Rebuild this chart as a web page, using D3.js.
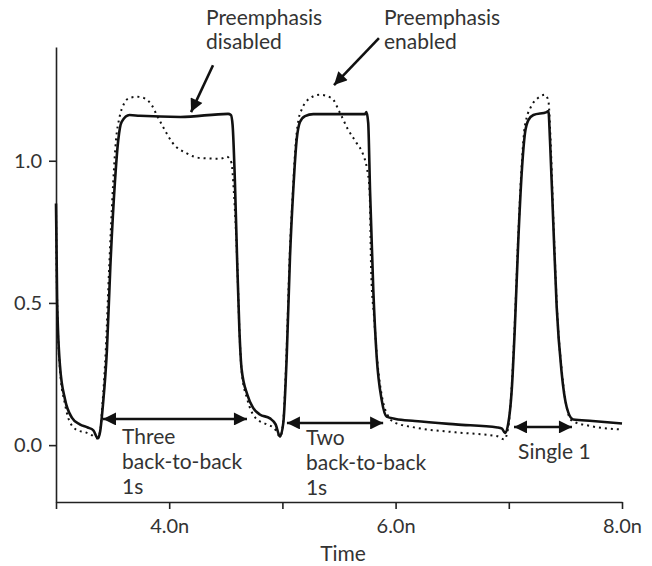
<!DOCTYPE html>
<meta charset="utf-8">
<style>
body { margin:0; background:#fff; }
svg { display:block; background:#fff; }
.axis path, .axis line { stroke:#222; stroke-width:1.6; }
.axis text { font-family:Lato, "Open Sans", sans-serif; font-size:20px; fill:#333; }
.wave { fill:none; stroke:#111; }
.disabled { stroke-width:2.6; }
.enabled { stroke-width:2; stroke-dasharray:2,4; }
.note { font-family:Lato, "Open Sans", sans-serif; font-size:21px; fill:#333; }
.arrow { stroke:#111; stroke-width:2.6; }
</style>
<body>
<script src="https://cdnjs.cloudflare.com/ajax/libs/d3/7.8.5/d3.min.js"></script>
<script>

var width = 652,
    height = 566;

// time in ns, voltage
var disabledWave = [
  [3.00,0.85],[3.01,0.51],[3.035,0.28],[3.08,0.16],[3.14,0.097],[3.21,0.073],[3.28,0.062],
  [3.33,0.052],[3.37,0.024],[3.39,0.048],[3.415,0.143],[3.45,0.336],[3.48,0.627],[3.52,0.922],
  [3.55,1.073],[3.58,1.137],[3.65,1.161],[3.74,1.158],[4.10,1.154],[4.52,1.165],[4.545,1.161],
  [4.56,1.126],[4.58,0.933],[4.60,0.652],[4.62,0.406],[4.64,0.266],[4.69,0.178],[4.74,0.132],
  [4.80,0.108],[4.89,0.094],[4.94,0.073],[4.979,0.030],[5.008,0.078],[5.038,0.310],
  [5.067,0.661],[5.096,0.897],[5.126,1.073],[5.155,1.136],[5.20,1.157],[5.273,1.164],[5.73,1.164],
  [5.742,1.171],[5.758,1.133],[5.774,0.897],[5.803,0.545],[5.833,0.310],[5.877,0.159],
  [5.921,0.100],[6.0,0.092],[6.17,0.085],[6.53,0.073],[6.90,0.062],[6.94,0.058],
  [6.966,0.043],[6.996,0.078],[7.026,0.194],[7.055,0.429],[7.084,0.721],[7.114,0.957],
  [7.143,1.097],[7.173,1.143],[7.217,1.161],[7.335,1.171],[7.35,1.175],[7.364,1.072],
  [7.393,0.780],[7.423,0.486],[7.467,0.254],[7.511,0.134],[7.569,0.090],[7.74,0.085],[8.00,0.076]
];

var enabledWave = [
  [3.00,0.83],[3.01,0.51],[3.035,0.266],[3.08,0.143],[3.12,0.083],[3.19,0.052],[3.26,0.045],
  [3.32,0.034],[3.36,0.024],[3.39,0.048],[3.41,0.143],[3.44,0.336],[3.47,0.627],[3.505,0.922],
  [3.53,1.073],[3.56,1.151],[3.60,1.200],[3.65,1.221],[3.72,1.225],[3.79,1.218],[3.85,1.193],
  [3.89,1.161],[3.95,1.116],[4.03,1.063],[4.16,1.025],[4.27,1.010],[4.45,1.007],[4.51,1.014],
  [4.55,0.993],[4.57,0.898],[4.60,0.652],[4.62,0.406],[4.64,0.259],[4.69,0.161],[4.76,0.097],
  [4.86,0.073],[4.93,0.059],[4.979,0.030],[5.006,0.078],[5.035,0.310],[5.064,0.661],
  [5.093,0.897],[5.12,1.073],[5.145,1.15],[5.17,1.18],[5.244,1.22],[5.332,1.232],[5.436,1.22],
  [5.509,1.168],[5.582,1.108],[5.656,1.062],[5.715,1.020],[5.745,0.977],[5.77,0.897],
  [5.785,0.60],[5.81,0.45],[5.84,0.29],[5.88,0.17],[5.93,0.105],[5.99,0.080],[6.17,0.062],
  [6.53,0.045],[6.90,0.031],[6.96,0.020],[6.994,0.060],[7.024,0.194],[7.053,0.429],
  [7.082,0.721],[7.11,0.957],[7.135,1.10],[7.16,1.155],[7.19,1.185],[7.21,1.20],[7.25,1.218],
  [7.32,1.232],[7.35,1.21],[7.366,1.10],[7.395,0.780],[7.425,0.486],[7.47,0.254],[7.515,0.125],
  [7.56,0.085],[7.71,0.068],[8.00,0.055]
];

var xTicks = [3, 4, 5, 6, 7, 8];
var xLabels = {4:"4.0n", 6:"6.0n", 8:"8.0n"};
var yTicks = [0, 0.5, 1.0];

// bit-interval arrows: t from, t to, level
var spans = [
  {t0:3.415, t1:4.687, v:0.092, lines:["Three","back-to-back","1s"], tx:3.583, tv:0.004},
  {t0:5.04,  t1:5.89,  v:0.078, lines:["Two","back-to-back","1s"],   tx:5.208, tv:0.0},
  {t0:7.046, t1:7.558, v:0.064, lines:["Single 1"],                  tx:7.082, tv:-0.05}
];

// callouts: text anchor, arrow tail, arrow tip
var callouts = [
  {lines:["Preemphasis","disabled"], tx:4.325, tv:1.477, from:[4.387,1.336], to:[4.193,1.171]},
  {lines:["Preemphasis","enabled"],  tx:5.897, tv:1.477, from:[5.853,1.431], to:[5.456,1.266]}
];

var svg = d3.select("body").append("svg")
    .attr("width", width)
    .attr("height", height);

var defs = svg.append("defs");
defs.append("marker")
    .attr("id","head")
    .attr("viewBox","0 0 10 10")
    .attr("refX",10).attr("refY",5)
    .attr("markerUnits","userSpaceOnUse")
    .attr("markerWidth",15).attr("markerHeight",13)
    .attr("orient","auto-start-reverse")
  .append("path")
    .attr("d","M0,0L10,5L0,10z")
    .attr("fill","#111");

var x = d3.scaleLinear().domain([3, 8]).range([56, 622]);
var y = d3.scaleLinear().domain([-0.2, 1.4]).range([502, 47]);

var xAxis = d3.axisBottom(x)
    .tickValues(xTicks)
    .tickSize(7)
    .tickSizeOuter(0)
    .tickPadding(10)
    .tickFormat(function(d){ return xLabels[d] || ""; });

var yAxis = d3.axisLeft(y)
    .tickValues(yTicks)
    .tickSize(7)
    .tickSizeOuter(0)
    .tickPadding(7)
    .tickFormat(d3.format(".1f"));

svg.append("g")
    .attr("class","axis")
    .attr("transform","translate(0," + y.range()[0] + ")")
    .call(xAxis);

svg.append("g")
    .attr("class","axis")
    .attr("transform","translate(" + x.range()[0] + ",0)")
    .call(yAxis);

svg.selectAll(".axis text").attr("fill","#333");

svg.append("text")
    .attr("class","note")
    .attr("x", (x.range()[0] + x.range()[1]) / 2 + 4)
    .attr("y", 561)
    .attr("text-anchor","middle")
    .text("Time");

var line = d3.line()
    .x(function(d){ return x(d[0]); })
    .y(function(d){ return y(d[1]); })
    .curve(d3.curveMonotoneX);

svg.append("path")
    .datum(enabledWave)
    .attr("class","wave enabled")
    .attr("d", line);

svg.append("path")
    .datum(disabledWave)
    .attr("class","wave disabled")
    .attr("d", line);

spans.forEach(function(s){
  svg.append("line")
      .attr("class","arrow")
      .attr("x1", x(s.t0)).attr("y1", y(s.v))
      .attr("x2", x(s.t1)).attr("y2", y(s.v))
      .attr("marker-start","url(#head)")
      .attr("marker-end","url(#head)");
  var t = svg.append("text").attr("class","note");
  s.lines.forEach(function(l, i){
    t.append("tspan")
        .attr("x", x(s.tx))
        .attr("y", y(s.tv) + i * 25)
        .text(l);
  });
});

callouts.forEach(function(c){
  svg.append("line")
      .attr("class","arrow")
      .attr("x1", x(c.from[0])).attr("y1", y(c.from[1]))
      .attr("x2", x(c.to[0])).attr("y2", y(c.to[1]))
      .attr("marker-end","url(#head)");
  var t = svg.append("text").attr("class","note");
  c.lines.forEach(function(l, i){
    t.append("tspan")
        .attr("x", x(c.tx))
        .attr("y", y(c.tv) + i * 24)
        .text(l);
  });
});

</script>
